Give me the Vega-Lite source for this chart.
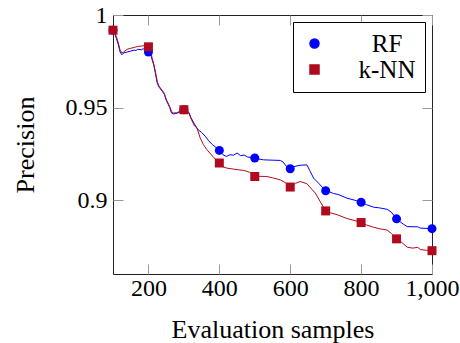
{
  "$schema": "https://vega.github.io/schema/vega-lite/v6.json",
  "width": 319,
  "height": 259,
  "autosize": {"type": "none"},
  "padding": {"left": 113, "top": 15, "right": 28, "bottom": 69},
  "background": "white",
  "config": {
    "view": {"stroke": "#222", "strokeWidth": 1},
    "font": "Liberation Serif",
    "axis": {
      "grid": false,
      "domain": false,
      "tickColor": "#999",
      "tickSize": -10,
      "tickWidth": 1,
      "labelOverlap": false,
      "labelFlush": false,
      "labelFont": "Liberation Serif",
      "labelFontSize": 24,
      "labelColor": "#000",
      "titleFont": "Liberation Serif",
      "titleFontSize": 26,
      "titleFontWeight": "normal",
      "titleColor": "#000"
    },
    "legend": {"labelFont": "Liberation Serif"}
  },
  "data": {
    "values": [
      {"s":100,"v":0.9918,"m":"RF"},{"s":105,"v":0.990,"m":"RF"},{"s":110,"v":0.987,"m":"RF"},{"s":115,"v":0.984,"m":"RF"},{"s":120,"v":0.980,"m":"RF"},{"s":125,"v":0.9785,"m":"RF"},{"s":130,"v":0.9795,"m":"RF"},{"s":140,"v":0.980,"m":"RF"},{"s":150,"v":0.9805,"m":"RF"},{"s":160,"v":0.981,"m":"RF"},{"s":165,"v":0.9808,"m":"RF"},{"s":170,"v":0.9815,"m":"RF"},{"s":180,"v":0.9812,"m":"RF"},{"s":185,"v":0.9818,"m":"RF"},{"s":190,"v":0.981,"m":"RF"},{"s":195,"v":0.9805,"m":"RF"},{"s":200,"v":0.980,"m":"RF"},{"s":205,"v":0.9798,"m":"RF"},{"s":210,"v":0.976,"m":"RF"},{"s":215,"v":0.973,"m":"RF"},{"s":220,"v":0.968,"m":"RF"},{"s":225,"v":0.963,"m":"RF"},{"s":230,"v":0.961,"m":"RF"},{"s":240,"v":0.9585,"m":"RF"},{"s":245,"v":0.957,"m":"RF"},{"s":250,"v":0.954,"m":"RF"},{"s":255,"v":0.952,"m":"RF"},{"s":260,"v":0.950,"m":"RF"},{"s":265,"v":0.947,"m":"RF"},{"s":270,"v":0.9465,"m":"RF"},{"s":280,"v":0.9468,"m":"RF"},{"s":290,"v":0.9478,"m":"RF"},{"s":300,"v":0.9488,"m":"RF"},{"s":310,"v":0.9482,"m":"RF"},{"s":315,"v":0.947,"m":"RF"},{"s":320,"v":0.9445,"m":"RF"},{"s":330,"v":0.941,"m":"RF"},{"s":340,"v":0.938,"m":"RF"},{"s":350,"v":0.9365,"m":"RF"},{"s":360,"v":0.9345,"m":"RF"},{"s":370,"v":0.932,"m":"RF"},{"s":380,"v":0.930,"m":"RF"},{"s":390,"v":0.9285,"m":"RF"},{"s":400,"v":0.9268,"m":"RF"},{"s":410,"v":0.9245,"m":"RF"},{"s":420,"v":0.9235,"m":"RF"},{"s":430,"v":0.9245,"m":"RF"},{"s":440,"v":0.9242,"m":"RF"},{"s":450,"v":0.9254,"m":"RF"},{"s":460,"v":0.924,"m":"RF"},{"s":470,"v":0.9243,"m":"RF"},{"s":480,"v":0.9232,"m":"RF"},{"s":490,"v":0.923,"m":"RF"},{"s":500,"v":0.9227,"m":"RF"},{"s":510,"v":0.9222,"m":"RF"},{"s":525,"v":0.9217,"m":"RF"},{"s":540,"v":0.9216,"m":"RF"},{"s":555,"v":0.9215,"m":"RF"},{"s":572,"v":0.9214,"m":"RF"},{"s":580,"v":0.9205,"m":"RF"},{"s":590,"v":0.918,"m":"RF"},{"s":600,"v":0.9169,"m":"RF"},{"s":610,"v":0.918,"m":"RF"},{"s":628,"v":0.9188,"m":"RF"},{"s":647,"v":0.919,"m":"RF"},{"s":655,"v":0.916,"m":"RF"},{"s":666,"v":0.9118,"m":"RF"},{"s":680,"v":0.9091,"m":"RF"},{"s":690,"v":0.907,"m":"RF"},{"s":700,"v":0.905,"m":"RF"},{"s":710,"v":0.9045,"m":"RF"},{"s":722,"v":0.9035,"m":"RF"},{"s":735,"v":0.903,"m":"RF"},{"s":760,"v":0.901,"m":"RF"},{"s":780,"v":0.900,"m":"RF"},{"s":800,"v":0.8988,"m":"RF"},{"s":815,"v":0.8975,"m":"RF"},{"s":835,"v":0.8961,"m":"RF"},{"s":850,"v":0.8958,"m":"RF"},{"s":873,"v":0.895,"m":"RF"},{"s":885,"v":0.8935,"m":"RF"},{"s":900,"v":0.8898,"m":"RF"},{"s":915,"v":0.8875,"m":"RF"},{"s":930,"v":0.8856,"m":"RF"},{"s":960,"v":0.8855,"m":"RF"},{"s":967,"v":0.8848,"m":"RF"},{"s":1000,"v":0.8845,"m":"RF"},
      {"s":100,"v":0.9918,"m":"k-NN"},{"s":105,"v":0.9905,"m":"k-NN"},{"s":110,"v":0.988,"m":"k-NN"},{"s":115,"v":0.985,"m":"k-NN"},{"s":120,"v":0.981,"m":"k-NN"},{"s":125,"v":0.9795,"m":"k-NN"},{"s":130,"v":0.980,"m":"k-NN"},{"s":140,"v":0.9815,"m":"k-NN"},{"s":150,"v":0.982,"m":"k-NN"},{"s":160,"v":0.9825,"m":"k-NN"},{"s":170,"v":0.983,"m":"k-NN"},{"s":180,"v":0.9832,"m":"k-NN"},{"s":190,"v":0.9835,"m":"k-NN"},{"s":195,"v":0.9835,"m":"k-NN"},{"s":200,"v":0.9828,"m":"k-NN"},{"s":205,"v":0.982,"m":"k-NN"},{"s":210,"v":0.977,"m":"k-NN"},{"s":215,"v":0.9735,"m":"k-NN"},{"s":220,"v":0.969,"m":"k-NN"},{"s":225,"v":0.964,"m":"k-NN"},{"s":230,"v":0.9615,"m":"k-NN"},{"s":240,"v":0.959,"m":"k-NN"},{"s":245,"v":0.9575,"m":"k-NN"},{"s":250,"v":0.9545,"m":"k-NN"},{"s":255,"v":0.9525,"m":"k-NN"},{"s":260,"v":0.9505,"m":"k-NN"},{"s":265,"v":0.948,"m":"k-NN"},{"s":270,"v":0.947,"m":"k-NN"},{"s":280,"v":0.9472,"m":"k-NN"},{"s":290,"v":0.948,"m":"k-NN"},{"s":300,"v":0.9488,"m":"k-NN"},{"s":310,"v":0.948,"m":"k-NN"},{"s":315,"v":0.9465,"m":"k-NN"},{"s":320,"v":0.944,"m":"k-NN"},{"s":330,"v":0.940,"m":"k-NN"},{"s":337,"v":0.9389,"m":"k-NN"},{"s":346,"v":0.9335,"m":"k-NN"},{"s":355,"v":0.930,"m":"k-NN"},{"s":365,"v":0.9272,"m":"k-NN"},{"s":375,"v":0.925,"m":"k-NN"},{"s":385,"v":0.9228,"m":"k-NN"},{"s":400,"v":0.920,"m":"k-NN"},{"s":410,"v":0.918,"m":"k-NN"},{"s":422,"v":0.9172,"m":"k-NN"},{"s":440,"v":0.9167,"m":"k-NN"},{"s":455,"v":0.9163,"m":"k-NN"},{"s":469,"v":0.916,"m":"k-NN"},{"s":485,"v":0.915,"m":"k-NN"},{"s":500,"v":0.9127,"m":"k-NN"},{"s":515,"v":0.9128,"m":"k-NN"},{"s":534,"v":0.9127,"m":"k-NN"},{"s":550,"v":0.912,"m":"k-NN"},{"s":572,"v":0.9109,"m":"k-NN"},{"s":585,"v":0.9095,"m":"k-NN"},{"s":600,"v":0.907,"m":"k-NN"},{"s":615,"v":0.909,"m":"k-NN"},{"s":628,"v":0.910,"m":"k-NN"},{"s":647,"v":0.9088,"m":"k-NN"},{"s":660,"v":0.906,"m":"k-NN"},{"s":671,"v":0.9037,"m":"k-NN"},{"s":685,"v":0.899,"m":"k-NN"},{"s":700,"v":0.8941,"m":"k-NN"},{"s":715,"v":0.893,"m":"k-NN"},{"s":733,"v":0.892,"m":"k-NN"},{"s":760,"v":0.890,"m":"k-NN"},{"s":780,"v":0.889,"m":"k-NN"},{"s":800,"v":0.8878,"m":"k-NN"},{"s":815,"v":0.8865,"m":"k-NN"},{"s":835,"v":0.8853,"m":"k-NN"},{"s":850,"v":0.8845,"m":"k-NN"},{"s":873,"v":0.8838,"m":"k-NN"},{"s":885,"v":0.882,"m":"k-NN"},{"s":900,"v":0.879,"m":"k-NN"},{"s":915,"v":0.877,"m":"k-NN"},{"s":930,"v":0.8745,"m":"k-NN"},{"s":945,"v":0.874,"m":"k-NN"},{"s":960,"v":0.8744,"m":"k-NN"},{"s":967,"v":0.8732,"m":"k-NN"},{"s":985,"v":0.8728,"m":"k-NN"},{"s":1000,"v":0.8726,"m":"k-NN"}
    ]
  },
  "layer": [
    {
      "mark": {"type": "line", "strokeWidth": 1, "interpolate": "linear"},
      "encoding": {
        "x": {"field": "s", "type": "quantitative", "scale": {"domain": [100, 1000], "nice": false, "zero": false},
              "axis": {"orient": "bottom", "values": [200, 400, 600, 800, 1000], "format": ",d", "labelPadding": 12, "title": "Evaluation samples", "titlePadding": 16}},
        "y": {"field": "v", "type": "quantitative", "scale": {"domain": [0.86, 1], "nice": false, "zero": false},
              "axis": {"orient": "left", "values": [0.9, 0.95, 1], "format": "~g", "labelPadding": 16, "title": "Precision", "titlePadding": 27}},
        "color": {"field": "m", "type": "nominal", "scale": {"domain": ["RF", "k-NN"], "range": ["#0000ff", "#b00a1e"]}},
        "detail": {"field": "m"}
      }
    },
    {
      "transform": [{"filter": "datum.s % 100 === 0"}],
      "mark": {"type": "point", "filled": true, "size": 81, "opacity": 1},
      "encoding": {
        "x": {"field": "s", "type": "quantitative", "axis": {"orient": "top", "values": [200, 400, 600, 800, 1000], "labels": false, "title": null}},
        "y": {"field": "v", "type": "quantitative", "axis": {"orient": "right", "values": [0.9, 0.95, 1], "labels": false, "title": null}},
        "color": {"field": "m", "type": "nominal", "scale": {"domain": ["RF", "k-NN"], "range": ["#0000ff", "#b00a1e"]},
          "legend": {
            "title": null, "orient": "top-right", "offset": 7, "padding": 9,
            "strokeColor": "#000", "fillColor": "#fff", "cornerRadius": 0,
            "labelFont": "Liberation Serif", "labelFontSize": 25, "labelColor": "#000",
            "labelAlign": "center", "labelOffset": 60, "symbolSize": 81, "rowPadding": 0
          }},
        "shape": {"field": "m", "type": "nominal", "scale": {"domain": ["RF", "k-NN"], "range": ["circle", "square"]},
          "legend": {
            "title": null, "orient": "top-right", "offset": 7, "padding": 9,
            "strokeColor": "#000", "fillColor": "#fff", "cornerRadius": 0,
            "labelFont": "Liberation Serif", "labelFontSize": 25, "labelColor": "#000",
            "labelAlign": "center", "labelOffset": 60, "symbolSize": 81, "rowPadding": 0
          }}
      }
    }
  ]
}
